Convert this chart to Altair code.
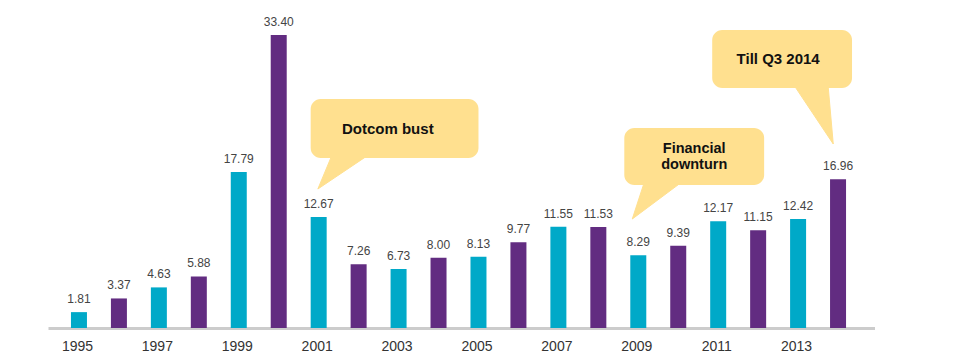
import altair as alt
import pandas as pd

# ---- data ----
years = list(range(1995, 2015))
values = [1.81, 3.37, 4.63, 5.88, 17.79, 33.40, 12.67, 7.26, 6.73, 8.00,
          8.13, 9.77, 11.55, 11.53, 8.29, 9.39, 12.17, 11.15, 12.42, 16.96]
tick_years = [1995, 1997, 1999, 2001, 2003, 2005, 2007, 2009, 2011, 2013]

callout_labels = ["Dotcom bust", "Financial", "downturn", "Till Q3 2014"]
# box extents (year, value units), tail base and tip, text anchors
box_x = [2000.80, 2008.65, 2010.85]
box_x2 = [2005.00, 2012.15, 2014.35]
box_y = [19.38, 16.31, 27.37]
box_y2 = [26.11, 22.81, 33.98]
tail_x1 = [2001.33, 2009.15, 2012.90]
tail_x2 = [2002.23, 2010.08, 2013.75]
tip_x = [2000.98, 2008.85, 2013.88]
tip_y = [15.85, 12.43, 20.98]
text_x = [2002.73, 2010.40, 2010.40, 2012.50]
text_y = [22.69, 20.40, 18.55, 30.7]
text_size = [15, 14.5, 14.5, 15]

TEAL = "#00A9C8"
PURPLE = "#622C81"
YELLOW = "#FFE08F"

df = pd.DataFrame({
    "year": years,
    "value": values,
    "group": ["odd" if y % 2 else "even" for y in years],
    "label": [f"{v:.2f}" for v in values],
})

xscale = alt.Scale(domain=[1994.225, 2014.925], nice=False, zero=False, padding=0)
yscale = alt.Scale(domain=[0, 36.49], nice=False)

x_axis = alt.Axis(values=tick_years, format="d", title=None, ticks=False, grid=False,
                  domainColor="#cccccc", domainWidth=3, labelFontSize=14,
                  labelColor="#333333", labelPadding=11, labelFont="Liberation Sans",
                  labelOffset=-2)

bars = alt.Chart(df).mark_bar(size=16).encode(
    x=alt.X("year:Q", scale=xscale, axis=x_axis),
    y=alt.Y("value:Q", scale=yscale, axis=None),
    color=alt.Color("group:N", scale=alt.Scale(domain=["odd", "even"], range=[TEAL, PURPLE]),
                    legend=None),
)

labels = alt.Chart(df).mark_text(baseline="bottom", dy=-6, fontSize=12, color="#444444",
                                 font="Liberation Sans").encode(
    x=alt.X("year:Q", scale=xscale),
    y=alt.Y("value:Q", scale=yscale),
    text="label:N",
)

boxes_df = pd.DataFrame({"x": box_x, "x2": box_x2, "y": box_y, "y2": box_y2})
boxes = alt.Chart(boxes_df).mark_rect(cornerRadius=10, color=YELLOW).encode(
    x=alt.X("x:Q", scale=xscale), x2="x2:Q",
    y=alt.Y("y:Q", scale=yscale), y2="y2:Q",
)

tail_rows = []
for i in range(len(box_x)):
    base = box_y[i] + 0.3
    tail_rows += [
        {"id": i, "o": 0, "x": tail_x1[i], "y": base},
        {"id": i, "o": 1, "x": tip_x[i], "y": tip_y[i]},
        {"id": i, "o": 2, "x": tail_x2[i], "y": base},
    ]
tails_df = pd.DataFrame(tail_rows)
tails = alt.Chart(tails_df).mark_line(fill=YELLOW, stroke=YELLOW, strokeWidth=1,
                                      interpolate="linear-closed").encode(
    x=alt.X("x:Q", scale=xscale),
    y=alt.Y("y:Q", scale=yscale),
    detail="id:N",
    order="o:Q",
)

text_df = pd.DataFrame({"x": text_x, "y": text_y, "t": callout_labels, "s": text_size})
texts = alt.Chart(text_df).mark_text(fontWeight="bold", color="#111111",
                                     font="Liberation Sans", baseline="middle").encode(
    x=alt.X("x:Q", scale=xscale),
    y=alt.Y("y:Q", scale=yscale),
    text="t:N",
    size=alt.Size("s:Q", scale=None, legend=None),
)

chart = alt.layer(bars, labels, tails, boxes, texts).properties(
    width=827, height=320,
    autosize=alt.AutoSizeParams(type="none"),
    padding={"left": 40, "top": 0, "right": 0, "bottom": 30},
).configure_view(stroke=None)

chart.save("out.html", embed_options={"renderer": "svg", "actions": False})
